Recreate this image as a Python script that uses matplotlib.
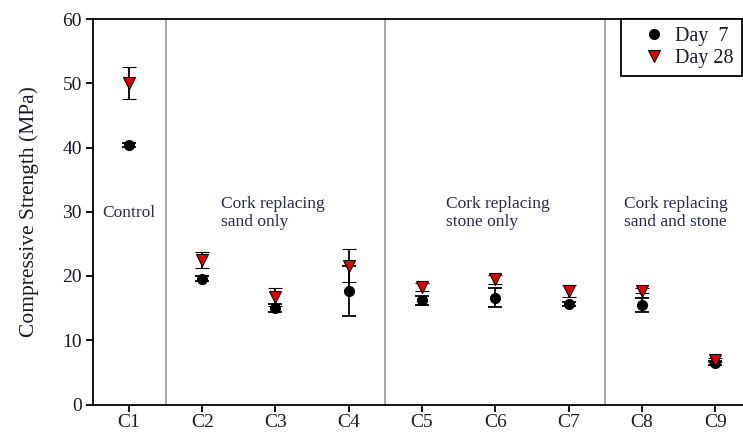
import matplotlib
matplotlib.use("Agg")
import matplotlib.pyplot as plt
from matplotlib.lines import Line2D
import numpy as np

mixes = ["C1", "C2", "C3", "C4", "C5", "C6", "C7", "C8", "C9"]
day7_mean = [40.4, 19.6, 15.0, 17.6, 16.2, 16.6, 15.6, 15.5, 6.5]
day7_err = [0.3, 0.4, 0.6, 3.9, 0.7, 1.5, 0.3, 1.1, 0.3]
day28_mean = [50.0, 22.5, 16.8, 21.6, 18.3, 19.5, 17.7, 17.7, 6.9]
day28_err = [2.5, 1.3, 1.4, 2.6, 0.6, 0.7, 0.9, 0.4, 0.3]
group_labels = ["Control", "Cork replacing\nsand only", "Cork replacing\nstone only",
                "Cork replacing\nsand and stone"]

plt.rcParams["font.family"] = ["Liberation Serif", "DejaVu Serif"]

fig = plt.figure(figsize=(7.43, 4.34), dpi=100)
ax = fig.add_axes([93 / 743, 29.5 / 434, 1 - 93 / 743, 385.5 / 434])

x = np.arange(1, len(mixes) + 1)

# group separators
for xs in (1.5, 4.5, 7.5):
    ax.axvline(xs, color="#a0a0a0", lw=1.3, zorder=1)

ax.errorbar(x, day7_mean, yerr=day7_err, fmt="o", color="black", ms=7,
            ecolor="black", elinewidth=1.3, capsize=5, capthick=1.3, zorder=3)
ax.errorbar(x, day28_mean, yerr=day28_err, fmt="v", mfc="#e00000", mec="black",
            mew=0.8, ms=8, ecolor="black", elinewidth=1.3, capsize=5, capthick=1.3,
            zorder=4)

txt_color = "#2a2a50"
ann_fs = 12.5
ax.text(1.0, 29.8, group_labels[0], ha="center", va="center", fontsize=ann_fs, color=txt_color)
for xl, lab in zip((2.25, 5.33, 7.76), group_labels[1:]):
    ax.text(xl, 32.5, lab, ha="left", va="top", fontsize=ann_fs, color=txt_color,
            linespacing=1.2)

ax.set_xlim(0.51, 9.38)
ax.set_ylim(0, 60)
ax.set_xticks(x)
ax.set_xticklabels(mixes)
ax.set_yticks(np.arange(0, 61, 10))
ax.set_ylabel("Compressive Strength (MPa)", fontsize=15.5, color="#1a1a2a", labelpad=17)
ax.tick_params(axis="both", labelsize=14, width=1.3, length=5, direction="out",
               colors="black", labelcolor="#1a1a2a")
ax.tick_params(axis="x", pad=2)
ax.tick_params(axis="y", pad=3)
for side in ("left", "bottom", "top"):
    ax.spines[side].set_linewidth(1.3)
ax.spines["right"].set_visible(False)

handles = [
    Line2D([], [], ls="none", marker="o", color="black", ms=7),
    Line2D([], [], ls="none", marker="v", mfc="#e00000", mec="black", mew=0.8, ms=8),
]
leg = ax.legend(handles, ["Day  7", "Day 28"], loc="upper left",
                bbox_to_anchor=((621 - 93) / 650, 1.0), fontsize=14.5,
                frameon=True, fancybox=False, edgecolor="black", framealpha=1,
                handlelength=2.5, handletextpad=-0.2, borderpad=0.4, labelspacing=0.15,
                borderaxespad=0.0)
leg.get_frame().set_linewidth(1.3)
for t in leg.get_texts():
    t.set_color("#1a1a2a")

fig.savefig("out.png", dpi=100)
